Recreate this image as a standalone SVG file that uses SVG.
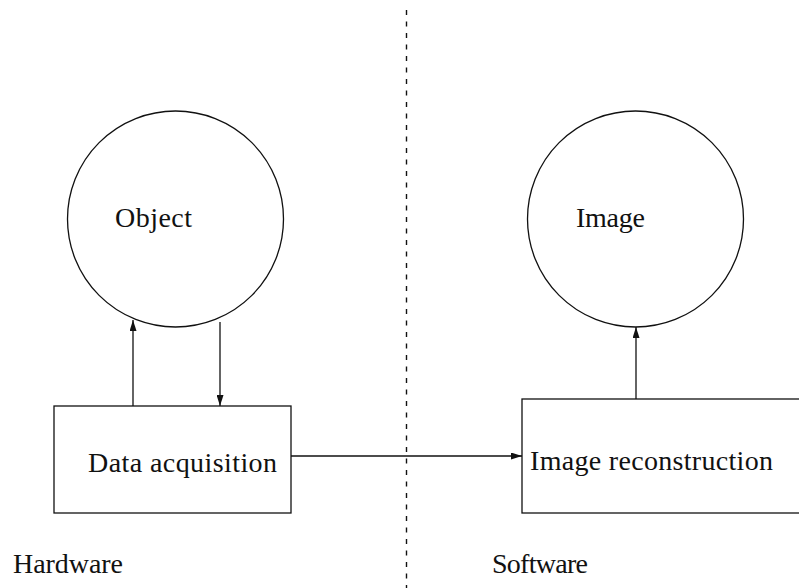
<svg xmlns="http://www.w3.org/2000/svg" width="799" height="588" viewBox="0 0 799 588">
  <style>
    .shape { fill: #fff; stroke: #111; stroke-width: 1.3; }
    .label { font-family: "Liberation Serif", "DejaVu Serif", serif; font-size: 28px; fill: #111; }
    .link { fill: none; stroke: #111; stroke-width: 1.3; }
    .divider { fill: none; stroke: #111; stroke-width: 1.4; stroke-dasharray: 5 6.5; }
  </style>
  <defs>
    <marker id="arrow" viewBox="0 0 11 7" refX="11" refY="3.5" markerWidth="11" markerHeight="7" markerUnits="userSpaceOnUse" orient="auto">
      <path d="M0,0 L11,3.5 L0,7 Z" fill="#111"/>
    </marker>
  </defs>
  <rect width="799" height="588" fill="#fff"/>

  <!-- hardware / software divide -->
  <line class="divider" x1="406.5" y1="10" x2="406.5" y2="588"/>

  <g id="object">
    <circle class="shape" cx="175.5" cy="219" r="108"/>
    <text class="label" x="115" y="227" textLength="77" lengthAdjust="spacing">Object</text>
  </g>

  <g id="image">
    <circle class="shape" cx="635.5" cy="219" r="108"/>
    <text class="label" x="576" y="227" textLength="69" lengthAdjust="spacing">Image</text>
  </g>

  <g id="data-acquisition">
    <rect class="shape" x="54" y="406" width="237" height="107"/>
    <text class="label" x="88" y="472" textLength="189" lengthAdjust="spacing">Data acquisition</text>
  </g>

  <g id="image-reconstruction">
    <rect class="shape" x="522" y="399" width="290" height="114"/>
    <text class="label" x="530" y="470" textLength="243" lengthAdjust="spacing">Image reconstruction</text>
  </g>

  <g id="connectors">
    <line class="link" x1="133" y1="406" x2="133" y2="320" marker-end="url(#arrow)"/>
    <line class="link" x1="220" y1="322" x2="220" y2="406" marker-end="url(#arrow)"/>
    <line class="link" x1="291" y1="456" x2="522" y2="456" stroke-width="1" marker-end="url(#arrow)"/>
    <line class="link" x1="636" y1="399" x2="636" y2="327" marker-end="url(#arrow)"/>
  </g>

  <g id="side-labels">
    <text class="label" x="13" y="573" textLength="110" lengthAdjust="spacing">Hardware</text>
    <text class="label" x="492" y="573" textLength="96" lengthAdjust="spacing">Software</text>
  </g>
</svg>
